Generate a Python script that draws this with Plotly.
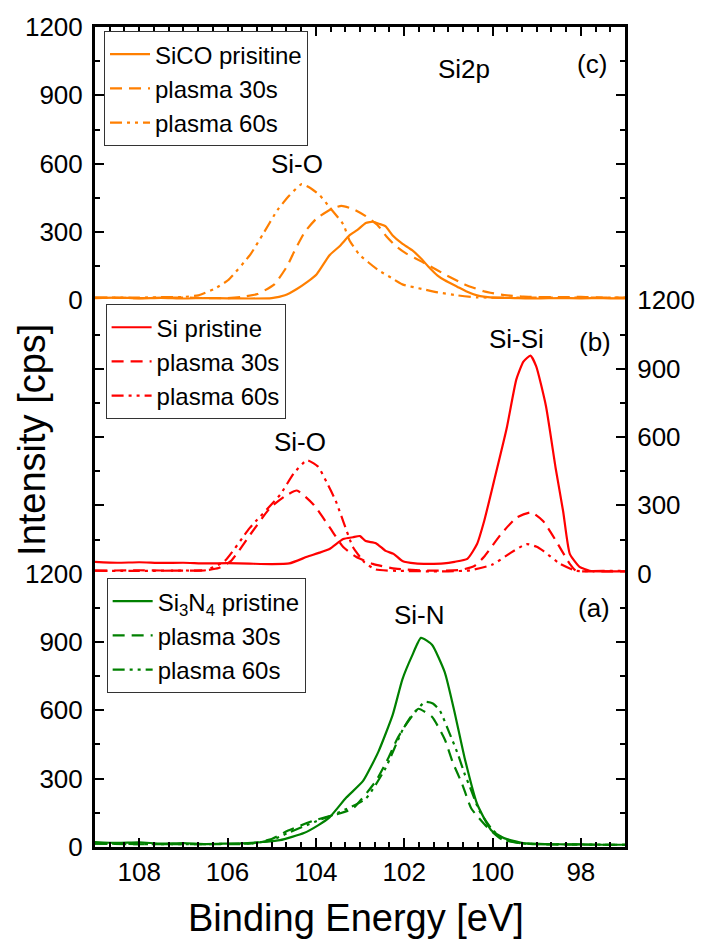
import plotly.graph_objects as go

# ---------------- data (Binding energy in eV, intensity in cps) ----------------
# Panel (c) SiCO
c_pristine_x = [109, 108.5, 108, 107.5, 107, 106.5, 106, 105.5, 105.0, 104.7, 104.43, 104.2, 103.98, 103.69, 103.45,
                103.24, 103.05, 102.87, 102.7, 102.55, 102.42, 102.26, 102.05, 101.82, 101.6, 101.46, 101.25, 101.08,
                100.8, 100.6, 100.35, 100.0, 99.5, 99, 98.5, 98, 97.5, 97]
c_pristine_y = [10, 12, 9, 11, 8, 10, 9, 8, 10, 22, 50, 80, 115, 198, 240,
                285, 310, 340, 345, 335, 325, 285, 250, 220, 180, 150, 110, 88,
                60, 40, 22, 12, 10, 8, 10, 9, 10, 8]
c_30s_x = [109, 108, 107, 106.5, 106, 105.7, 105.32, 104.94, 104.65, 104.5, 104.25, 103.98, 103.65, 103.42, 103.15,
           102.87, 102.6, 102.4, 102.2, 101.95, 101.75, 101.46, 101.08, 100.63, 100.2, 99.8, 99.3, 98.5, 98, 97.5, 97]
c_30s_y = [12, 10, 12, 10, 10, 14, 28, 70, 150, 210, 300, 360, 400, 415, 400,
           370, 330, 280, 240, 205, 185, 155, 114, 70, 40, 25, 16, 14, 15, 12, 12]
c_60s_x = [109, 108, 107.5, 107, 106.66, 106.3, 105.99, 105.48, 105.2, 104.87, 104.6, 104.32, 104.1, 103.91, 103.69,
           103.38, 103.24, 103.02, 102.8, 102.58, 102.3, 102.04, 101.6, 101.24, 100.8, 100.35, 99.5, 98.5, 97.5, 97]
c_60s_y = [12, 12, 14, 15, 22, 50, 88, 202, 290, 396, 460, 510, 490, 461, 409,
           334, 264, 202, 165, 132, 100, 70, 50, 35, 22, 13, 12, 12, 12, 12]

# Panel (b) Si
b_pristine_x = [109, 108.5, 108, 107.5, 107, 106.5, 106, 105.5, 105, 104.6, 104.2, 103.95, 103.69, 103.38, 103.16,
                103.0, 102.87, 102.64, 102.42, 102.24, 102.04, 101.75, 101.46, 101.1, 100.86, 100.57, 100.35, 100.19,
                99.97, 99.68, 99.46, 99.30, 99.14, 99.01, 98.79, 98.57, 98.40, 98.25, 98.03, 97.80, 97.5, 97]
b_pristine_y = [52, 48, 50, 47, 48, 45, 46, 44, 42, 45, 74, 90, 108, 152, 160,
                165, 143, 134, 100, 87, 56, 45, 43, 45, 52, 65, 130, 230,
                403, 637, 853, 931, 957, 910, 736, 463, 273, 87, 30, 13, 10, 10]
b_30s_x = [109, 108, 107, 106.5, 106.2, 105.92, 105.48, 105.03, 104.7, 104.43, 104.05, 103.69, 103.38, 103.09, 102.71,
           102.2, 101.46, 100.7, 100.4, 100.19, 99.81, 99.45, 99.12, 98.85, 98.56, 98.25, 98.11, 97.5, 97]
b_30s_y = [13, 15, 13, 15, 25, 56, 173, 290, 340, 365, 303, 204, 117, 74, 43,
           22, 13, 17, 35, 74, 173, 247, 269, 230, 143, 43, 13, 10, 10]
b_60s_x = [109, 108, 107, 106.5, 106.06, 105.5, 104.81, 104.5, 104.20, 103.95, 103.76, 103.55, 103.38, 103.16, 102.9,
           102.64, 102, 101, 100.5, 100.0, 99.6, 99.23, 99.0, 98.85, 98.47, 98.11, 97.5, 97]
b_60s_y = [13, 12, 14, 15, 56, 200, 346, 440, 498, 470, 403, 320, 230, 117, 50,
           18, 12, 10, 15, 40, 90, 130, 118, 100, 43, 13, 12, 12]

# Panel (a) Si3N4
a_pristine_x = [109, 108.5, 108, 107.5, 107, 106.5, 106, 105.54, 105.2, 104.81, 104.27, 103.95, 103.69, 103.31, 102.93,
                102.58, 102.26, 102.04, 101.82, 101.62, 101.37, 101.08, 100.86, 100.63, 100.35, 100.03, 99.74, 99.30,
                98.5, 98, 97.5, 97]
a_pristine_y = [22, 18, 20, 15, 17, 13, 15, 17, 22, 30, 61, 95, 130, 217, 290,
                420, 580, 736, 840, 918, 888, 767, 593, 390, 190, 74, 39, 17,
                12, 12, 10, 10]
a_30s_x = [109, 108, 107, 106, 105.5, 105.0, 104.65, 104.03, 103.5, 103.16, 102.64, 102.37, 102.15, 101.82, 101.68,
           101.37, 101.08, 100.90, 100.68, 100.48, 100.12, 99.8, 99.4, 99, 98, 97]
a_30s_y = [15, 12, 13, 12, 15, 35, 70, 117, 145, 169, 290, 386, 477, 580, 607,
           572, 472, 372, 273, 169, 87, 35, 18, 12, 10, 10]
a_60s_x = [109, 108, 107, 106, 105.5, 105.0, 104.65, 104.03, 103.5, 102.87, 102.42, 102.02, 101.75, 101.53, 101.35,
           101.19, 100.97, 100.79, 100.63, 100.52, 100.30, 100.0, 99.7, 99.3, 98.5, 97.5, 97]
a_60s_y = [15, 13, 12, 14, 15, 30, 60, 110, 150, 212, 347, 520, 593, 637, 630,
           598, 498, 411, 320, 268, 160, 75, 30, 15, 12, 10, 10]

x_range = [109, 97]
y_range = [0, 1200]
x_major_step = 2
y_major_step = 300

ORANGE = "#ff7f00"
RED = "#ff0000"
GREEN = "#008000"
DASH = "12px,7px"
DASHDOTDOT = "12px,5px,3px,5px,3px,5px"
FONT = "Liberation Sans, Arial, sans-serif"

fig = go.Figure()

def add(x, y, name, color, dash, xa, ya, legend):
    fig.add_trace(go.Scatter(x=x, y=y, name=name, mode="lines",
                             line=dict(color=color, width=2.2, dash=dash, shape="spline", smoothing=0.5),
                             xaxis=xa, yaxis=ya, legend=legend))

add(c_pristine_x, c_pristine_y, "SiCO prisitine", ORANGE, "solid", "x3", "y3", "legend3")
add(c_30s_x, c_30s_y, "plasma 30s", ORANGE, DASH, "x3", "y3", "legend3")
add(c_60s_x, c_60s_y, "plasma 60s", ORANGE, DASHDOTDOT, "x3", "y3", "legend3")

add(b_pristine_x, b_pristine_y, "Si pristine", RED, "solid", "x2", "y2", "legend2")
add(b_30s_x, b_30s_y, "plasma 30s", RED, DASH, "x2", "y2", "legend2")
add(b_60s_x, b_60s_y, "plasma 60s", RED, DASHDOTDOT, "x2", "y2", "legend2")

add(a_pristine_x, a_pristine_y, "Si<sub>3</sub>N<sub>4</sub> pristine", GREEN, "solid", "x", "y", "legend")
add(a_30s_x, a_30s_y, "plasma 30s", GREEN, DASH, "x", "y", "legend")
add(a_60s_x, a_60s_y, "plasma 60s", GREEN, DASHDOTDOT, "x", "y", "legend")

tickfont = dict(family=FONT, size=26, color="black")
minor_x = dict(dtick=x_major_step / 6, tick0=0, ticklen=5, tickwidth=2, tickcolor="black", ticks="inside")
minor_y = dict(dtick=y_major_step / 2, tick0=0, ticklen=5, tickwidth=2, tickcolor="black", ticks="inside")

common_x = dict(range=x_range, autorange=False, tickmode="linear", tick0=0, dtick=x_major_step,
                ticks="inside", ticklen=9, tickwidth=2,
                tickcolor="black", linecolor="black", linewidth=3, showgrid=False, zeroline=False,
                domain=[0, 1], minor=minor_x, tickfont=tickfont)
common_y = dict(range=y_range, autorange=False, tickmode="linear", tick0=0, dtick=y_major_step,
                ticks="inside", ticklen=9, tickwidth=2,
                tickcolor="black", linecolor="black", linewidth=3, showgrid=False, zeroline=False,
                mirror="ticks", showline=True, minor=minor_y, tickfont=tickfont)

fig.update_layout(
    width=707, height=949,
    margin=dict(l=95, r=74, t=20, b=102),
    paper_bgcolor="white", plot_bgcolor="white",
    font=dict(family=FONT, color="black"),
    xaxis=dict(**common_x, anchor="y", side="bottom", showline=True, showticklabels=True, ticklabelstandoff=0),
    xaxis2=dict(**common_x, anchor="y2", visible=False),
    xaxis3=dict(**common_x, anchor="y3", side="top", showline=True, showticklabels=False),
    yaxis=dict(**common_y, domain=[0, 1/3], anchor="x", side="left", ticklabelstandoff=4),
    yaxis2=dict(**common_y, domain=[1/3, 2/3], anchor="x2", side="right", ticklabelstandoff=4),
    yaxis3=dict(**common_y, domain=[2/3, 1], anchor="x3", side="left", ticklabelstandoff=4),
)

legend_common = dict(xanchor="left", yanchor="top", bgcolor="white", bordercolor="#333333", borderwidth=1,
                     font=dict(family=FONT, size=24, color="black"), tracegroupgap=0, itemwidth=40)
fig.update_layout(
    legend3=dict(**legend_common, x=0.017, y=0.995),
    legend2=dict(**legend_common, x=0.020, y=0.662),
    legend=dict(**legend_common, x=0.022, y=0.328),
)

ann_font = dict(family=FONT, size=26, color="black")
annotations = [
    dict(text="Si-O", x=104.43, y=600, xref="x3", yref="y3"),
    dict(text="Si2p", x=100.64, y=1015, xref="x3", yref="y3"),
    dict(text="(c)", x=97.74, y=1037, xref="x3", yref="y3"),
    dict(text="Si-Si", x=99.45, y=1031, xref="x2", yref="y2"),
    dict(text="(b)", x=97.69, y=1018, xref="x2", yref="y2"),
    dict(text="Si-O", x=104.36, y=576, xref="x2", yref="y2"),
    dict(text="(a)", x=97.71, y=1048, xref="x", yref="y"),
    dict(text="Si-N", x=101.66, y=1018, xref="x", yref="y"),
]
for a in annotations:
    fig.add_annotation(**a, showarrow=False, font=ann_font, xanchor="center", yanchor="middle")

fig.add_annotation(text="Intensity [cps]", xref="paper", yref="paper", x=-0.118, y=0.497,
                   textangle=-90, showarrow=False, font=dict(family=FONT, size=38, color="black"),
                   xanchor="center", yanchor="middle")
fig.add_annotation(text="Binding Energy [eV]", xref="paper", yref="paper", x=0.493, y=-0.086,
                   showarrow=False, font=dict(family=FONT, size=38, color="black"),
                   xanchor="center", yanchor="middle")

fig.write_html("out.html")
